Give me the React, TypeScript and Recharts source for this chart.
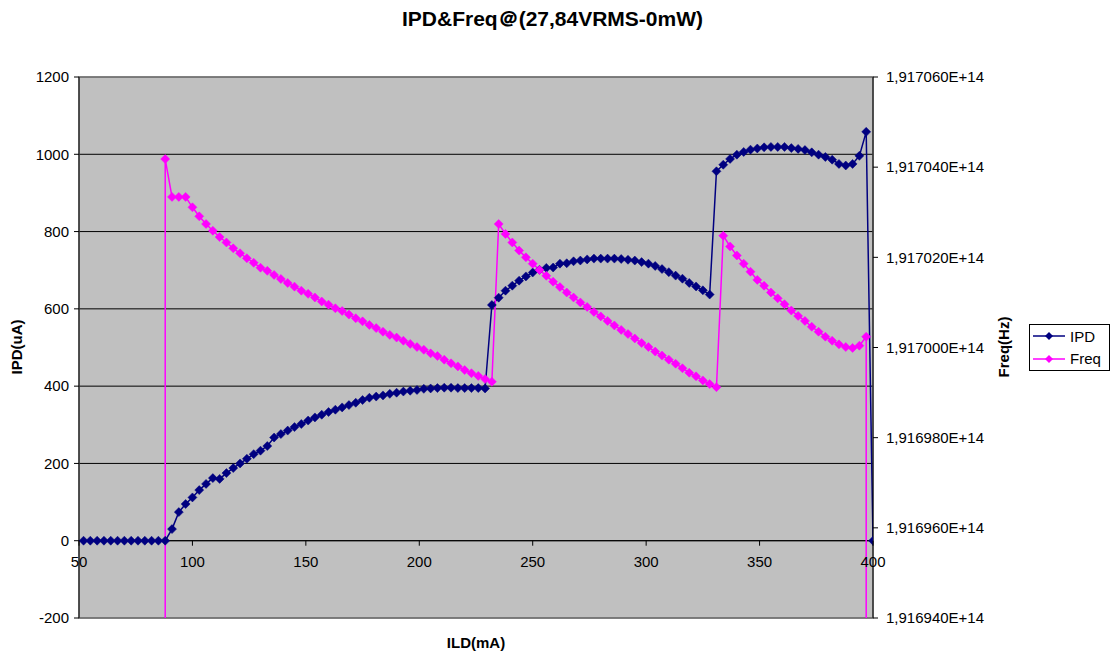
import {
  LineChart, Line, XAxis, YAxis, CartesianGrid, ReferenceLine, ReferenceArea, Legend
} from "recharts";

// ILD current (mA) sampled every 3 mA
const ildMa = [
  52, 55, 58, 61, 64, 67, 70, 73, 76, 79,
  82, 85, 88, 91, 94, 97, 100, 103, 106, 109,
  112, 115, 118, 121, 124, 127, 130, 133, 136, 139,
  142, 145, 148, 151, 154, 157, 160, 163, 166, 169,
  172, 175, 178, 181, 184, 187, 190, 193, 196, 199,
  202, 205, 208, 211, 214, 217, 220, 223, 226, 229,
  232, 235, 238, 241, 244, 247, 250, 253, 256, 259,
  262, 265, 268, 271, 274, 277, 280, 283, 286, 289,
  292, 295, 298, 301, 304, 307, 310, 313, 316, 319,
  322, 325, 328, 331, 334, 337, 340, 343, 346, 349,
  352, 355, 358, 361, 364, 367, 370, 373, 376, 379,
  382, 385, 388, 391, 394, 397, 400,
];

// IPD (uA)
const ipdUa = [
  0, 0, 0, 0, 0, 0, 0, 0, 0, 0,
  0, 0, 0, 30, 74, 95, 112, 131, 147, 162,
  160, 175, 188, 200, 212, 224, 233, 245, 267, 276,
  285, 294, 302, 311, 319, 326, 333, 339, 345, 351,
  357, 364, 370, 373, 376, 380, 383, 386, 388, 390,
  393, 394, 395, 396, 396, 395, 395, 395, 395, 394,
  610, 629, 647, 660, 673, 684, 694, 701, 706, 707,
  717, 718, 723, 725, 728, 730, 730, 730, 730, 729,
  727, 725, 721, 717, 711, 703, 695, 686, 678, 667,
  658, 648, 637, 956, 973, 988, 999, 1006, 1012, 1015,
  1018, 1019, 1019, 1019, 1016, 1014, 1011, 1005, 999, 993,
  986, 975, 971, 975, 996, 1058, 0,
];

// Freq (Hz) - 0 where the laser was not lasing
const freqHz = [
  0, 0, 0, 0, 0, 0, 0, 0, 0, 0,
  0, 0, 191704.18e9, 191703.34e9, 191703.34e9, 191703.34e9, 191703.11e9, 191702.91e9, 191702.74e9, 191702.59e9,
  191702.45e9, 191702.33e9, 191702.2e9, 191702.09e9, 191701.98e9, 191701.88e9, 191701.77e9, 191701.7e9, 191701.61e9, 191701.52e9,
  191701.43e9, 191701.35e9, 191701.26e9, 191701.19e9, 191701.11e9, 191701.02e9, 191700.95e9, 191700.87e9, 191700.81e9, 191700.73e9,
  191700.65e9, 191700.58e9, 191700.5e9, 191700.43e9, 191700.35e9, 191700.28e9, 191700.22e9, 191700.15e9, 191700.08e9, 191700.01e9,
  191699.95e9, 191699.87e9, 191699.81e9, 191699.73e9, 191699.65e9, 191699.58e9, 191699.5e9, 191699.43e9, 191699.37e9, 191699.3e9,
  191699.24e9, 191702.74e9, 191702.52e9, 191702.33e9, 191702.15e9, 191702.0e9, 191701.86e9, 191701.72e9, 191701.59e9, 191701.46e9,
  191701.34e9, 191701.22e9, 191701.11e9, 191701.0e9, 191700.9e9, 191700.79e9, 191700.69e9, 191700.59e9, 191700.49e9, 191700.39e9,
  191700.3e9, 191700.2e9, 191700.1e9, 191700.01e9, 191699.91e9, 191699.82e9, 191699.73e9, 191699.64e9, 191699.54e9, 191699.44e9,
  191699.36e9, 191699.27e9, 191699.19e9, 191699.12e9, 191702.48e9, 191702.24e9, 191702.04e9, 191701.86e9, 191701.68e9, 191701.5e9,
  191701.37e9, 191701.22e9, 191701.09e9, 191700.96e9, 191700.82e9, 191700.7e9, 191700.59e9, 191700.46e9, 191700.35e9, 191700.24e9,
  191700.15e9, 191700.07e9, 191700.01e9, 191699.99e9, 191700.04e9, 191700.24e9, 0,
];

const ildTicks = [50, 100, 150, 200, 250, 300, 350, 400];
const ipdTicks = [-200, 0, 200, 400, 600, 800, 1000, 1200];
const freqTicks = [191694e9, 191696e9, 191698e9, 191700e9, 191702e9, 191704e9, 191706e9];

const data = ildMa.map((ild, i) => ({ ild, ipd: ipdUa[i], freq: freqHz[i] }));

const W = 1114;
const H = 657;
const TOP = 77;
const LEFT_W = 79;
const RIGHT_W = 241;
const BOTTOM_H = 39;
const PLOT_H = H - TOP - BOTTOM_H;
const ZERO_Y = TOP + (PLOT_H * ipdTicks[ipdTicks.length - 1]) / (ipdTicks[ipdTicks.length - 1] - ipdTicks[0]);

const FONT = "Arial, 'Liberation Sans', sans-serif";
const TICK_SIZE = 15;
const IPD_COLOR = "#000080";
const FREQ_COLOR = "#FF00FF";

const fmtFreq = (v: number) => (v / 1e14).toFixed(6).replace(".", ",") + "E+14";

function diamond(color: string) {
  return (p: any) => {
    const { cx, cy, index } = p;
    if (cx == null || cy == null || !isFinite(cy)) return <g key={index} />;
    const r = 4.5;
    return (
      <path
        key={index}
        d={`M${cx},${cy - r}L${cx + r},${cy}L${cx},${cy + r}L${cx - r},${cy}Z`}
        fill={color}
        stroke={color}
        strokeWidth={0.5}
      />
    );
  };
}

// x ticks sit on the y=0 line, like Excel's crossing axis
const XTick = (props: any) => {
  const { x, payload } = props;
  return (
    <g>
      <line x1={x} x2={x} y1={ZERO_Y} y2={ZERO_Y + 5} stroke="#000" />
      <text x={x} y={ZERO_Y + 26} textAnchor="middle" fontSize={TICK_SIZE} fontFamily={FONT} fill="#000">
        {payload.value}
      </text>
    </g>
  );
};

const legendItems = [
  { name: "IPD", color: IPD_COLOR },
  { name: "Freq", color: FREQ_COLOR },
];

const LegendBox = () => (
  <div
    style={{
      border: "1px solid #000",
      background: "#fff",
      width: 81,
      height: 47,
      boxSizing: "border-box",
      paddingLeft: 3,
      fontFamily: FONT,
      fontSize: 15,
      color: "#000",
    }}
  >
    {legendItems.map((it) => (
      <div key={it.name} style={{ display: "flex", alignItems: "center", height: 22.5 }}>
        <svg width={32} height={10}>
          <line x1={0} x2={32} y1={5} y2={5} stroke={it.color} strokeWidth={1.5} />
          <path d="M16,1L20,5L16,9L12,5Z" fill={it.color} />
        </svg>
        <span style={{ marginLeft: 5 }}>{it.name}</span>
      </div>
    ))}
  </div>
);

export default function App() {
  return (
    <div style={{ position: "absolute", left: 0, top: 0, width: W, height: H, background: "#fff" }}>
      <div
        style={{
          position: "absolute",
          left: 0,
          top: 8,
          width: 1105,
          textAlign: "center",
          fontFamily: FONT,
          fontWeight: "bold",
          fontSize: 21,
          lineHeight: "21px",
          color: "#000",
          zIndex: 2,
        }}
      >
        IPD&amp;Freq＠(27,84VRMS-0mW)
      </div>
      <LineChart width={W} height={H} data={data} margin={{ top: TOP, right: 0, bottom: 0, left: 0 }}>
        <CartesianGrid yAxisId="ipd" vertical={false} stroke="#000" fill="#C0C0C0" fillOpacity={1} />
        <ReferenceArea
          yAxisId="ipd"
          x1={50}
          x2={400}
          y1={-200}
          y2={1200}
          fill="none"
          stroke="#808080"
          strokeWidth={1.5}
        />
        <XAxis
          dataKey="ild"
          type="number"
          domain={[50, 400]}
          ticks={ildTicks}
          allowDataOverflow
          axisLine={false}
          tickLine={false}
          height={BOTTOM_H}
          tick={<XTick />}
          label={() => (
            <text x={476} y={648} textAnchor="middle" fontSize={15} fontWeight="bold" fontFamily={FONT} fill="#000">
              ILD(mA)
            </text>
          )}
        />
        <YAxis
          yAxisId="ipd"
          orientation="left"
          width={LEFT_W}
          domain={[-200, 1200]}
          ticks={ipdTicks}
          allowDataOverflow
          axisLine={{ stroke: "#000" }}
          tickLine={{ stroke: "#000" }}
          tickSize={5}
          tickMargin={5}
          tick={{ fill: "#000", fontSize: TICK_SIZE, fontFamily: FONT }}
          label={() => (
            <text
              x={16}
              y={347}
              transform="rotate(-90 16 347)"
              textAnchor="middle"
              dominantBaseline="central"
              fontSize={15}
              fontWeight="bold"
              fontFamily={FONT}
              fill="#000"
            >
              IPD(uA)
            </text>
          )}
        />
        <YAxis
          yAxisId="freq"
          orientation="right"
          width={RIGHT_W}
          domain={[freqTicks[0], freqTicks[freqTicks.length - 1]]}
          ticks={freqTicks}
          allowDataOverflow
          axisLine={{ stroke: "#000" }}
          tickLine={{ stroke: "#000" }}
          tickSize={5}
          tickMargin={8}
          tickFormatter={fmtFreq}
          tick={{ fill: "#000", fontSize: TICK_SIZE, fontFamily: FONT }}
          label={() => (
            <text
              x={1003}
              y={347}
              transform="rotate(-90 1003 347)"
              textAnchor="middle"
              dominantBaseline="central"
              fontSize={15}
              fontWeight="bold"
              fontFamily={FONT}
              fill="#000"
            >
              Freq(Hz)
            </text>
          )}
        />
        <ReferenceLine yAxisId="ipd" y={0} stroke="#000" />
        <Legend
          layout="horizontal"
          align="center"
          verticalAlign="middle"
          content={<LegendBox />}
          wrapperStyle={{ left: 1029, top: 324, width: 81, height: 47 }}
        />
        <Line
          yAxisId="ipd"
          dataKey="ipd"
          name="IPD"
          type="linear"
          stroke={IPD_COLOR}
          strokeWidth={1.5}
          dot={diamond(IPD_COLOR)}
          activeDot={false}
          isAnimationActive={false}
        />
        <Line
          yAxisId="freq"
          dataKey="freq"
          name="Freq"
          type="linear"
          stroke={FREQ_COLOR}
          strokeWidth={1.5}
          dot={diamond(FREQ_COLOR)}
          activeDot={false}
          isAnimationActive={false}
        />
      </LineChart>
    </div>
  );
}
